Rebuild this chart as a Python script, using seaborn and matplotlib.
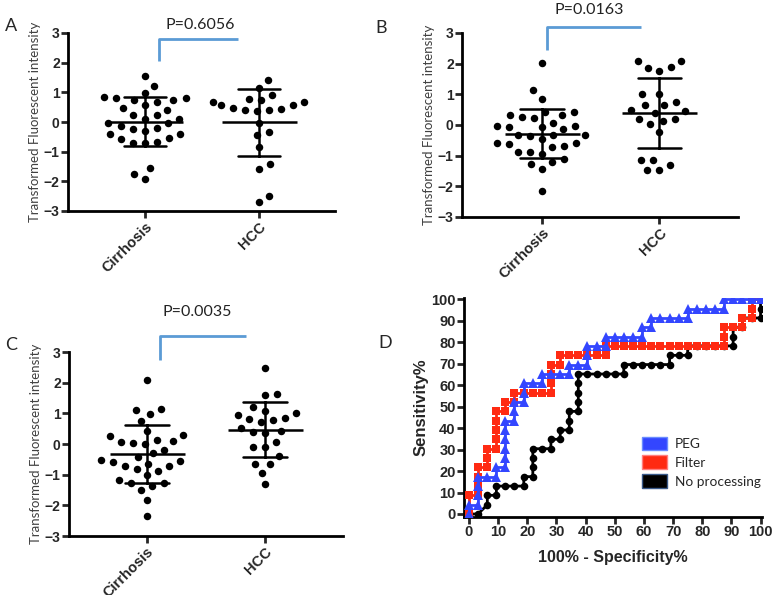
import numpy as np
import pandas as pd
import seaborn as sns
import matplotlib.pyplot as plt
from matplotlib.patches import Patch

# ---- panel A-C values (transformed fluorescent intensity) ----
groups = ["Cirrhosis", "HCC"]

cirrhosis_a = [1.55, 1.22, 0.97, 0.82, 0.75, 0.75, 0.84, 0.80, 0.56, 0.48, 0.41, 0.67,
               0.25, 0.11, 0.11, 0.22, -0.03, -0.03, -0.22, -0.31, -0.20, -0.15,
               -0.42, -0.42, -0.54, -0.56, -0.72, -0.72, -0.67, -1.56, -1.75, -1.92]
hcc_a = [1.40, 1.14, 0.92, 0.73, 0.78, 0.67, 0.56, 0.69, 0.58, 0.41, 0.36, 0.39,
         0.48, 0.45, -0.03, -0.34, -0.45, -0.84, -1.43, -1.60, -2.50, -2.70]

cirrhosis_b = [2.02, 1.13, 0.86, 0.42, 0.34, 0.34, 0.42, 0.26, 0.23, 0.08, -0.12,
               -0.04, -0.07, -0.07, -0.04, -0.34, -0.37, -0.47, -0.34, -0.34, -0.63,
               -0.72, -0.58, -0.58, -0.70, -0.88, -0.93, -0.88, -1.10, -1.26, -1.21,
               -1.42, -2.16]
hcc_b = [2.08, 1.89, 1.75, 1.86, 2.08, 1.01, 1.01, 0.64, 0.48, 0.40, 0.64, 0.75,
         0.45, 0.21, 0.13, 0.21, 0.02, -0.23, -1.15, -1.32, -1.48, -1.48, -1.15]

cirrhosis_c = [2.10, 1.10, 0.99, 1.15, 0.75, 0.42, 0.25, 0.10, 0.03, 0.01, 0.07, 0.14,
               0.30, -0.18, -0.42, -0.29, -0.53, -0.59, -0.72, -0.80, -0.88, -0.72,
               -0.64, -0.55, -1.02, -1.26, -1.38, -1.26, -1.18, -1.49, -1.82, -2.35]
hcc_c = [2.49, 1.59, 1.64, 1.20, 1.08, 0.86, 0.77, 1.00, 0.94, 0.72, 0.83, 0.53,
         0.42, 0.36, 0.39, 0.07, -0.10, -0.10, -0.39, -0.66, -0.64, -0.95, -1.32]

p_values = ["P=0.6056", "P=0.0163", "P=0.0035"]

# ---- panel D ROC points (100% - specificity%, sensitivity%) ----
peg_x = [0, 0, 3.1, 3.1, 3.1, 3.1, 6.3, 9.4, 9.4, 12.5, 12.5, 12.5, 12.5, 12.5, 12.5,
         15.6, 15.6, 15.6, 18.8, 18.8, 18.8, 21.9, 25, 25, 28.1, 31.3, 34.4, 34.4,
         37.5, 40.6, 40.6, 40.6, 43.8, 46.9, 46.9, 50, 53.1, 56.3, 59.4, 59.4, 62.5,
         62.5, 65.6, 68.8, 71.9, 75, 75, 78.1, 81.3, 84.4, 87.5, 87.5, 90.6, 93.8,
         96.9, 100]
peg_y = [0, 4.3, 4.3, 8.7, 13.0, 17.4, 17.4, 17.4, 21.7, 21.7, 26.1, 30.4, 34.8, 39.1,
         43.5, 43.5, 47.8, 52.2, 52.2, 56.5, 60.9, 60.9, 60.9, 65.2, 65.2, 65.2, 65.2,
         69.6, 69.6, 69.6, 73.9, 78.3, 78.3, 78.3, 82.6, 82.6, 82.6, 82.6, 82.6, 87.0,
         87.0, 91.3, 91.3, 91.3, 91.3, 91.3, 95.7, 95.7, 95.7, 95.7, 95.7, 100, 100,
         100, 100, 100]

filter_x = [0, 0, 3.1, 3.1, 3.1, 3.1, 6.3, 6.3, 6.3, 9.4, 9.4, 9.4, 9.4, 9.4, 12.5,
            12.5, 15.6, 15.6, 18.8, 21.9, 25, 28.1, 28.1, 28.1, 28.1, 31.3, 31.3,
            34.4, 37.5, 40.6, 43.8, 46.9, 46.9, 50, 53.1, 56.3, 59.4, 62.5, 65.6,
            68.8, 71.9, 75, 78.1, 81.3, 84.4, 87.5, 87.5, 87.5, 90.6, 93.8, 93.8,
            96.9, 96.9, 96.9, 100]
filter_y = [0, 8.7, 8.7, 13.0, 17.4, 21.7, 21.7, 26.1, 30.4, 30.4, 34.8, 39.1, 43.5,
            47.8, 47.8, 52.2, 52.2, 56.5, 56.5, 56.5, 56.5, 56.5, 60.9, 65.2, 69.6,
            69.6, 73.9, 73.9, 73.9, 73.9, 73.9, 73.9, 78.3, 78.3, 78.3, 78.3, 78.3,
            78.3, 78.3, 78.3, 78.3, 78.3, 78.3, 78.3, 78.3, 78.3, 82.6, 87.0, 87.0,
            87.0, 91.3, 91.3, 95.7, 100, 100]

none_x = [0, 3.1, 6.3, 6.3, 9.4, 9.4, 12.5, 15.6, 18.8, 18.8, 21.9, 21.9, 21.9, 21.9,
          25, 28.1, 28.1, 31.3, 31.3, 34.4, 34.4, 34.4, 37.5, 37.5, 37.5, 37.5, 37.5,
          40.6, 43.8, 46.9, 50, 53.1, 53.1, 56.3, 59.4, 62.5, 65.6, 68.8, 68.8, 71.9,
          75, 75, 78.1, 81.3, 84.4, 87.5, 90.6, 90.6, 90.6, 93.8, 93.8, 96.9, 100,
          100, 100]
none_y = [0, 0, 4.3, 8.7, 8.7, 13.0, 13.0, 13.0, 13.0, 17.4, 17.4, 21.7, 26.1, 30.4,
          30.4, 30.4, 34.8, 34.8, 39.1, 39.1, 43.5, 47.8, 47.8, 52.2, 56.5, 60.9,
          65.2, 65.2, 65.2, 65.2, 65.2, 65.2, 69.6, 69.6, 69.6, 69.6, 69.6, 69.6,
          73.9, 73.9, 73.9, 78.3, 78.3, 78.3, 78.3, 78.3, 78.3, 82.6, 87.0, 87.0,
          91.3, 91.3, 91.3, 95.7, 100]

sns.set_style("ticks")
plt.rcParams['font.family'] = ['Liberation Sans', 'DejaVu Sans']

fig = plt.figure(figsize=(7.74, 5.95), dpi=100)

LABEL_FONT = ['Lato', 'DejaVu Sans']
BRACKET_BLUE = "#5b9bd5"


def scatter_panel(rect, cirr, hcc, xlim, p_text, p_xy, bracket, letter, letter_xy):
    ax = fig.add_axes(rect)
    df = pd.DataFrame({
        "group": ["Cirrhosis"] * len(cirr) + ["HCC"] * len(hcc),
        "value": cirr + hcc,
    })
    # invisible edge widens the swarm spacing like the Prism layout
    sns.swarmplot(data=df, x="group", y="value", order=groups, color="black",
                  size=5.4, linewidth=3.0, edgecolor=(1, 1, 1, 0), ax=ax, zorder=3)
    sns.pointplot(data=df, x="group", y="value", order=groups, errorbar="sd",
                  capsize=0.37, color="black", linestyle="none", marker="_",
                  markersize=54, markeredgewidth=1.8, err_kws={"linewidth": 1.8},
                  ax=ax, zorder=4)
    ax.set_ylim(-3, 3)
    ax.set_xlim(*xlim)
    ax.set_yticks(range(-3, 4))
    ax.set_xlabel("")
    ax.set_ylabel("Transformed Fluorescent intensity", family=LABEL_FONT,
                  fontsize=9.5, color="#404040", labelpad=2)
    sns.despine(ax=ax)
    for sp in ["left", "bottom"]:
        ax.spines[sp].set_linewidth(2)
        ax.spines[sp].set_color("black")
    ax.tick_params(length=5, width=2, labelsize=10, pad=1)
    for lbl in ax.get_yticklabels():
        lbl.set_fontweight("bold")
    ax.set_xticks([0, 1])
    ax.set_xticklabels(groups, rotation=45, ha="right", rotation_mode="anchor",
                       fontweight="bold", fontsize=10.5)
    # significance bracket
    bx0, bx1, by0, by1 = bracket
    ax.plot([bx0, bx0, bx1], [by0, by1, by1], color=BRACKET_BLUE, lw=2,
            clip_on=False, solid_capstyle="butt")
    ax.text(p_xy[0], p_xy[1], p_text, ha="center", va="center",
            family=LABEL_FONT, fontsize=11.5, color="#222222", clip_on=False)
    fig.text(letter_xy[0], letter_xy[1], letter, family=LABEL_FONT, fontsize=13,
             ha="left", va="center")
    return ax


scatter_panel([68 / 774, 1 - 211 / 595, 267 / 774, 178 / 595], cirrhosis_a, hcc_a,
              (-0.675, 1.67), p_values[0], (0.49, 3.27), (0.12, 0.82, 2.07, 2.81),
              "A", (5 / 774, 1 - 26 / 595))
scatter_panel([462 / 774, 1 - 217 / 595, 276 / 774, 184 / 595], cirrhosis_b, hcc_b,
              (-0.68, 1.67), p_values[1], (0.40, 3.75), (0.045, 0.84, 2.43, 3.21),
              "B", (375 / 774, 1 - 28 / 595))
scatter_panel([69 / 774, 1 - 536 / 595, 274 / 774, 184 / 595], cirrhosis_c, hcc_c,
              (-0.657, 1.66), p_values[2], (0.43, 4.3), (0.11, 0.84, 2.73, 3.51),
              "C", (5 / 774, 1 - 345 / 595))

# ---- panel D ----
axd = fig.add_axes([464 / 774, 1 - 517 / 595, 298 / 774, 219 / 595])
roc_blue = "#3346ff"
roc_red = "#ff2a12"
sns.lineplot(x=none_x, y=none_y, sort=False, estimator=None, color="black",
             marker="o", markersize=5.5, markeredgewidth=0, linewidth=2, ax=axd,
             zorder=2)
sns.lineplot(x=filter_x, y=filter_y, sort=False, estimator=None, color=roc_red,
             marker="s", markersize=6.3, markeredgewidth=0, linewidth=2, ax=axd,
             zorder=3)
sns.lineplot(x=peg_x, y=peg_y, sort=False, estimator=None, color=roc_blue,
             marker="^", markersize=6.5, markeredgewidth=0, linewidth=2, ax=axd,
             zorder=4)
axd.set_xlim(-1.7, 100.5)
axd.set_ylim(-1.4, 100.6)
axd.set_xticks(range(0, 101, 10))
axd.set_yticks(range(0, 101, 10))
sns.despine(ax=axd)
for sp in ["left", "bottom"]:
    axd.spines[sp].set_linewidth(2)
    axd.spines[sp].set_color("black")
axd.tick_params(length=5, width=2, labelsize=10.5, pad=1)
for lbl in axd.get_xticklabels() + axd.get_yticklabels():
    lbl.set_fontweight("bold")
axd.set_xlabel("100% - Specificity%", fontweight="bold", fontsize=11.5, labelpad=8)
axd.set_ylabel("Sensitivity%", fontweight="bold", fontsize=12, labelpad=2)

handles = [Patch(facecolor=roc_blue, edgecolor="#6a8cff", label="PEG"),
           Patch(facecolor=roc_red, edgecolor="#ff8080", label="Filter"),
           Patch(facecolor="black", edgecolor="#3a5a8a", label="No processing")]
fig.legend(handles=handles, loc="upper left",
           bbox_to_anchor=(632 / 774, 1 - 427 / 595), frameon=False,
           prop={"family": LABEL_FONT, "size": 9.8}, handlelength=1.85,
           handleheight=1.15, labelspacing=0.4, handletextpad=0.6,
           borderpad=0.2)
fig.text(378 / 774, 1 - 343 / 595, "D", family=LABEL_FONT, fontsize=13,
         ha="left", va="center")

fig.savefig("out.png", dpi=100)
